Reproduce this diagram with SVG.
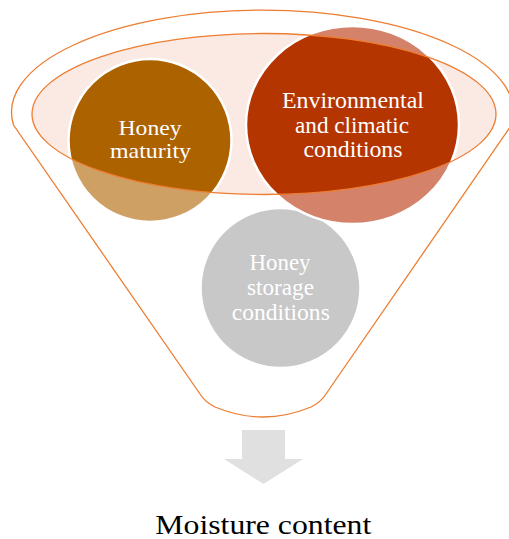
<svg xmlns="http://www.w3.org/2000/svg" width="509" height="539" viewBox="0 0 509 539">
<style>
.ol{fill:none;stroke:#ED7D31;stroke-width:1.3}
.wt{fill:#FFFFFF;font-family:"Liberation Serif","Times New Roman",serif;text-anchor:middle}
.ring{fill:none;stroke:#FFFFFF;stroke-width:2.5}
</style>
<defs>
<clipPath id="inner"><ellipse cx="264" cy="114" rx="232" ry="80.5"/></clipPath>
</defs>
<rect width="509" height="539" fill="#FFFFFF"/>
<g id="funnel">
<path class="ol" d="M 13.5,125 A 251,102 0 1 1 511.5,125 L 326,394 Q 321,402 311,407 Q 263,427 215,407 Q 205,402 200,394 Z"/>
</g>
<g id="funnel-top">
<ellipse cx="264" cy="114" rx="232" ry="80.5" fill="#FBE9E4"/>
</g>
<g id="node-storage">
<circle cx="280.5" cy="288" r="80" fill="#C8C8C8"/>
<circle cx="280.5" cy="288" r="80" class="ring"/>
<text class="wt" font-size="23" x="280" y="270" textLength="61" lengthAdjust="spacingAndGlyphs">Honey</text>
<text class="wt" font-size="23" x="280.5" y="295" textLength="67" lengthAdjust="spacingAndGlyphs">storage</text>
<text class="wt" font-size="23" x="280.8" y="320" textLength="98" lengthAdjust="spacingAndGlyphs">conditions</text>
</g>
<g id="node-maturity">
<circle cx="150" cy="140.5" r="81.5" fill="#CFA064"/>
<circle cx="150" cy="140.5" r="81.5" fill="#AD6200" clip-path="url(#inner)"/>
<circle cx="150" cy="140.5" r="81.5" class="ring"/>
</g>
<g id="node-environment">
<ellipse cx="352.5" cy="125" rx="106.5" ry="99" fill="#D4826A"/>
<ellipse cx="352.5" cy="125" rx="106.5" ry="99" fill="#B43500" clip-path="url(#inner)"/>
<ellipse cx="352.5" cy="125" rx="106.5" ry="99" class="ring"/>
</g>
<g id="funnel-rim">
<ellipse class="ol" cx="264" cy="114" rx="232" ry="80.5"/>
</g>
<g id="labels">
<text class="wt" font-size="22" x="150" y="135" textLength="63" lengthAdjust="spacingAndGlyphs">Honey</text>
<text class="wt" font-size="22" x="150.5" y="158" textLength="81" lengthAdjust="spacingAndGlyphs">maturity</text>
<text class="wt" font-size="23" x="352.9" y="108" textLength="142" lengthAdjust="spacingAndGlyphs">Environmental</text>
<text class="wt" font-size="23" x="352" y="133" textLength="114" lengthAdjust="spacingAndGlyphs">and climatic</text>
<text class="wt" font-size="23" x="353" y="157" textLength="99" lengthAdjust="spacingAndGlyphs">conditions</text>
</g>
<g id="connectors">
<polygon points="242,430 285,430 285,459 303,459 263.5,484 224,459 242,459" fill="#E0E0E0"/>
</g>
<g id="node-result">
<text x="263.3" y="534" font-family="'Liberation Serif','Times New Roman',serif" font-size="28" text-anchor="middle" fill="#000000" textLength="216" lengthAdjust="spacingAndGlyphs">Moisture content</text>
</g>
</svg>
